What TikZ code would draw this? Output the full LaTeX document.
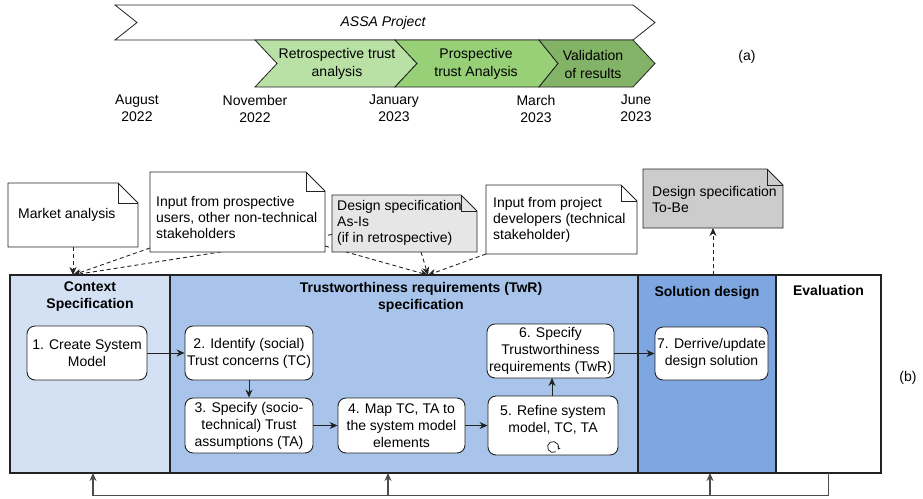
\documentclass[tikz,border=0pt]{standalone}
\usepackage{fontspec}
\setmainfont{Liberation Sans}
\usetikzlibrary{arrows.meta,calc}
\pgfdeclarelayer{bg}
\pgfsetlayers{bg,main}
\definecolor{ctxc}{HTML}{D4E1F5}
\definecolor{twrc}{HTML}{A9C4EB}
\definecolor{solc}{HTML}{7EA6E0}
\definecolor{greenA}{HTML}{B9E0A5}
\definecolor{greenB}{HTML}{97D077}
\definecolor{greenC}{HTML}{82B366}
\definecolor{grayA}{HTML}{E6E6E6}
\definecolor{grayB}{HTML}{CCCCCC}
\definecolor{linec}{HTML}{222222}
\tikzset{
 chev/.style={draw=linec, line width=0.8pt},
 col/.style={draw=linec, line width=1.2pt, inner sep=0pt, outer sep=0pt, anchor=north west},
 proc/.style={draw=linec, fill=white, rounded corners=8pt, line width=0.9pt, align=center, inner sep=1pt, font=\fontsize{14}{17}\selectfont},
 hdr/.style={font=\bfseries\fontsize{14}{17}\selectfont, align=center, inner sep=0pt},
 plain/.style={font=\fontsize{14}{17}\selectfont, align=center, inner sep=0pt},
 notefr/.style={draw=linec, line width=0.8pt},
 notetext/.style={align=left, anchor=west, inner sep=0pt, font=\fontsize{14}{16}\selectfont},
 flow/.style={-{Stealth[length=8pt,width=7pt]}, line width=0.9pt, draw=linec},
 dep/.style={dash pattern=on 4pt off 3pt, -{Stealth[length=8pt,width=7pt]}, line width=0.9pt, draw=linec},
 fb/.style={line width=1.1pt, draw=black!70},
 fbarrow/.style={line width=1.1pt, draw=black!70, -{Stealth[length=8pt,width=7pt]}},
}
\newcommand{\drawnote}[7]{% name, x, y, w, h, fill, fold
  \node[inner sep=0pt, outer sep=0pt, minimum width=#4pt, minimum height=#5pt, anchor=north west] (#1) at (#2,#3) {};
  \filldraw[notefr, fill=#6] (#1.north west) -- ([xshift=-#7pt]#1.north east) -- ([yshift=-#7pt]#1.north east) -- (#1.south east) -- (#1.south west) -- cycle;
  \draw[notefr] ([xshift=-#7pt]#1.north east) |- ([yshift=-#7pt]#1.north east);
}
\begin{document}
\begin{tikzpicture}[x=1pt,y=-1pt]
\useasboundingbox (0,0) rectangle (923,498);

% ---------------- (a) timeline ----------------
\filldraw[chev, fill=white] (115,5) -- (633,5) -- (655,22.5) -- (633,40) -- (115,40) -- (137,22.5) -- cycle;
\node[plain, font=\itshape\fontsize{14}{17}\selectfont] (assa) at (383,22.5) {ASSA Project};
\filldraw[chev, fill=greenA] (255,40) -- (395,40) -- (417,63.5) -- (395,87) -- (255,87) -- (277,63.5) -- cycle;
\filldraw[chev, fill=greenB] (395,40) -- (539,40) -- (558,63.5) -- (539,87) -- (395,87) -- (417,63.5) -- cycle;
\filldraw[chev, fill=greenC] (539,40) -- (633,40) -- (655,63.5) -- (633,87) -- (539,87) -- (558,63.5) -- cycle;
\node[plain, font=\fontsize{14}{18}\selectfont] (retro) at (337,64) {Retrospective trust\\analysis};
\node[plain, font=\fontsize{14}{18}\selectfont] (prosp) at (476,64) {Prospective\\trust Analysis};
\node[plain, font=\fontsize{14}{18}\selectfont] (valid) at (593,64) {Validation\\of results};

\node[plain] (d1) at (137,108.5) {August\\2022};
\node[plain] (d2) at (255,108.5) {November\\2022};
\node[plain] (d3) at (394,108.5) {January\\2023};
\node[plain] (d4) at (536,108.5) {March\\2023};
\node[plain] (d5) at (636,108.5) {June\\2023};
\node[plain] (la) at (747,57) {(a)};

% ---------------- (b) process ----------------
\node[col, fill=ctxc, minimum width=160pt, minimum height=198pt] (ctx) at (10,275) {};
\node[col, fill=twrc, minimum width=468pt, minimum height=198pt] (twr) at (170,275) {};
\node[col, fill=solc, minimum width=138pt, minimum height=198pt] (sol) at (638,275) {};
\node[col, fill=white, minimum width=105pt, minimum height=198pt] (eval) at (776,275) {};

\node[hdr] (ctxh) at (90,296.5) {Context\\Specification};
\node[hdr] (twrh) at (421,297.5) {Trustworthiness requirements (TwR)\\specification};
\node[hdr] (solh) at (707,293) {Solution design};
\node[hdr] (evalh) at (828.5,290) {Evaluation};

\node[proc, minimum width=120pt, minimum height=54pt] (b1) at (87,353) {1. Create System\\Model};
\node[proc, minimum width=128pt, minimum height=54pt] (b2) at (249,353) {2. Identify (social)\\Trust concerns (TC)};
\node[proc, minimum width=128pt, minimum height=55pt] (b3) at (249,425.5) {3. Specify (socio-\\technical) Trust\\assumptions (TA)};
\node[proc, minimum width=127pt, minimum height=55pt] (b4) at (401.5,425.5) {4. Map TC, TA to\\the system model\\elements};
\node[proc, minimum width=130pt, minimum height=59pt] (b5) at (553,425.5) {};
\node[plain] (b5t) at (553,420) {5. Refine system\\model, TC, TA};
\node[proc, minimum width=127pt, minimum height=54pt] (b6) at (550.5,351) {6. Specify\\Trustworthiness\\requirements (TwR)};
\node[proc, minimum width=113pt, minimum height=53pt] (b7) at (711.5,353.5) {7. Derrive/update\\design solution};

% loop marker
\coordinate (loopc) at (553,447);
\draw[line width=0.8pt, linec, -{Stealth[length=3pt,width=3.5pt]}] ([shift={(60:5.5)}]loopc) arc[start angle=60, end angle=390, radius=5.5];

\draw[flow] (b1.east) -- (b2.west);
\draw[flow] (b2.south) -- (b3.north);
\draw[flow] (b3.east) -- (b4.west);
\draw[flow] (b4.east) -- (b5.west);
\draw[flow] (b5.north -| 552,0) -- (552,378);
\draw[flow] (b6.east |- b7.west) -- (b7.west);

% feedback
\coordinate (fbr) at (828.5,495.5);
\coordinate (fbl) at (93,495.5);
\coordinate (fbm1) at (388,495.5);
\coordinate (fbm2) at (710,495.5);
\draw[fb] (eval.south) -- (fbr) -- (fbl);
\draw[fbarrow] (fbl) -- (fbl |- ctx.south);
\draw[fbarrow] (fbm1) -- (fbm1 |- twr.south);
\draw[fbarrow] (fbm2) -- (fbm2 |- sol.south);

% notes
\drawnote{ma}{8}{183}{130}{64}{white}{20}
\node[notetext] (mat) at (18,215) {Market analysis};
\drawnote{usr}{150}{172}{175}{80}{white}{19}
\node[notetext] (usrt) at (156,217) {Input from prospective\\users, other non-technical\\stakeholders};
\drawnote{asis}{332}{195}{145}{57}{grayA}{16}
\node[notetext] (asist) at (337,222.5) {Design specification\\As-Is\\(if in retrospective)};
\drawnote{dev}{486}{185}{151}{69}{white}{16}
\node[notetext] (devt) at (493,219.5) {Input from project\\developers (technical\\stakeholder)};
\drawnote{tobe}{643}{169}{140}{59}{grayB}{16}
\node[notetext] (tobet) at (652,199) {Design specification\\To-Be};

\coordinate (ctxin) at (73,275);
\coordinate (twrin) at (428,275);
\begin{pgfonlayer}{bg}
\draw[dep] (ma.south) -- (ctxin);
\draw[dep] ([yshift=4pt]usr.south west) -- (ctxin);
\draw[dep] ([yshift=-11pt]asis.west) -- (ctxin);
\draw[dep] ([yshift=6pt]usr.south east) -- (twrin);
\draw[dep] ([xshift=-56pt]asis.south east) -- (twrin);
\draw[dep] (dev.south west) -- (twrin);
\draw[dep] (sol.north -| tobe.south) -- (tobe.south);
\end{pgfonlayer}

\node[plain] (lb) at (908,378) {(b)};
\end{tikzpicture}
\end{document}
